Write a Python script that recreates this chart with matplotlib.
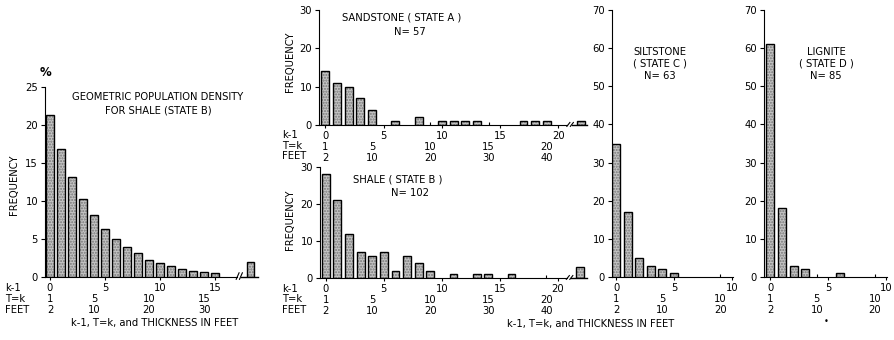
import matplotlib
matplotlib.use("Agg")
import matplotlib.pyplot as plt
from matplotlib.transforms import blended_transform_factory

W, H = 894, 340

# geometric density for shale (percent), k-1 = 0..15 plus tail bar
geo_k = list(range(16))
geo_pct = [21.3, 16.8, 13.1, 10.3, 8.1, 6.3, 5.0, 3.9, 3.1, 2.3, 1.8, 1.5, 1.1, 0.8, 0.6, 0.5]
geo_tail_k, geo_tail_pct = 18.2, 2.0

sand_k = [0, 1, 2, 3, 4, 6, 8, 10, 11, 12, 13, 17, 18, 19]
sand_n = [14, 11, 10, 7, 4, 1, 2, 1, 1, 1, 1, 1, 1, 1]
sand_tail_k, sand_tail_n = 21.9, 1

shale_k = [0, 1, 2, 3, 4, 5, 6, 7, 8, 9, 11, 13, 14, 16]
shale_n = [28, 21, 12, 7, 6, 7, 2, 6, 4, 2, 1, 1, 1, 1]
shale_tail_k, shale_tail_n = 21.9, 3

silt_k = [0, 1, 2, 3, 4, 5]
silt_n = [35, 17, 5, 3, 2, 1]

lig_k = [0, 1, 2, 3, 6]
lig_n = [61, 18, 3, 2, 1]

k_ticks = [0, 5, 10, 15, 20]
t_labels = [1, 5, 10, 15, 20]
feet_labels = [2, 10, 20, 30, 40]

FS = 7.2
plt.rcParams['font.family'] = 'DejaVu Sans'
plt.rcParams['font.size'] = FS

fig = plt.figure(figsize=(W / 100, H / 100), dpi=100)


def px_axes(x0, x1, ytop, ybot):
    # axes box given in pixel coords of the 894x340 picture
    return fig.add_axes([x0 / W, 1 - ybot / H, (x1 - x0) / W, (ybot - ytop) / H])


def bars(ax, k, v):
    ax.bar(k, v, width=0.68, color='#c4c4c4', edgecolor='#777777',
           hatch='......', linewidth=0, zorder=2)
    ax.bar(k, v, width=0.68, fill=False, edgecolor='black', linewidth=1.0, zorder=3)


def style(ax, ymax, ystep, xmin, xmax, kmax, brk=None):
    ax.set_ylim(0, ymax)
    ax.set_xlim(xmin, xmax)
    for s in ['top', 'right']:
        ax.spines[s].set_visible(False)
    ax.set_yticks(range(0, ymax + 1, ystep))
    ax.tick_params(axis='y', direction='out', length=3, width=0.8, pad=2, labelsize=FS)

    ks = [t for t in k_ticks if t <= kmax]
    ax.set_xticks(ks)
    ax.set_xticks([t - 1 for t in t_labels if 1 < t <= kmax + 1], minor=True)
    ax.tick_params(axis='x', which='major', direction='out', length=2.5, width=0.8, pad=1.5)
    ax.tick_params(axis='x', which='minor', direction='in', length=2.5, width=0.8)

    # second and third rows of x labels: T=k and thickness in feet
    tr = blended_transform_factory(ax.transData, ax.transAxes)
    for t, f in zip(t_labels, feet_labels):
        if t - 1 <= kmax:
            ax.annotate(str(t), (t - 1, 0), xycoords=tr, xytext=(0, -15.5),
                        textcoords='offset points', ha='center', va='center')
            ax.annotate(str(f), (t - 1, 0), xycoords=tr, xytext=(0, -23.5),
                        textcoords='offset points', ha='center', va='center')

    if brk is not None:
        ax.spines['bottom'].set_bounds(xmin, brk - 0.15)
        ax.plot([brk + 0.25, xmax], [0, 0], color='black', lw=1.0,
                transform=tr, clip_on=False)
        for dx in (-0.05, 0.25):
            ax.plot([brk + dx - 0.13, brk + dx + 0.13], [-0.012, 0.022], color='black',
                    lw=0.8, transform=tr, clip_on=False)


def row_labels(x, ys):
    for lab, yy in zip(['k-1', 'T=k', 'FEET'], ys):
        fig.text(x / W, 1 - yy / H, lab, ha='left', va='center')


def label(x, y, s, **kw):
    fig.text(x / W, 1 - y / H, s, ha='center', va='center', **kw)


# left panel: geometric density
ax0 = px_axes(45, 258, 87, 277)
bars(ax0, geo_k, geo_pct)
bars(ax0, [geo_tail_k], [geo_tail_pct])
style(ax0, 25, 5, -0.45, 18.9, 15, brk=17.1)
label(45, 73, '%', fontsize=8.5, fontweight='bold')
label(158, 97, 'GEOMETRIC POPULATION DENSITY')
label(158, 111, 'FOR SHALE (STATE B)')
label(14, 185, 'FREQUENCY', rotation=90)
row_labels(5, [288, 299, 310])
label(155, 323, 'k-1, T=k, and THICKNESS IN FEET')

# sandstone
ax1 = px_axes(319, 587, 10, 125)
bars(ax1, sand_k, sand_n)
bars(ax1, [sand_tail_k], [sand_tail_n])
style(ax1, 30, 10, -0.55, 22.45, 20, brk=20.9)
label(402, 18, 'SANDSTONE ( STATE A )')
label(410, 32, 'N= 57')
label(290, 62, 'FREQUENCY', rotation=90)
row_labels(282, [135, 146, 156])

# shale
ax2 = px_axes(320, 587, 167, 278)
bars(ax2, shale_k, shale_n)
bars(ax2, [shale_tail_k], [shale_tail_n])
style(ax2, 30, 10, -0.5, 22.5, 20, brk=20.9)
label(398, 180, 'SHALE ( STATE B )')
label(410, 193, 'N= 102')
label(290, 220, 'FREQUENCY', rotation=90)
row_labels(282, [289, 299, 310])
label(591, 324, 'k-1, T=k, and THICKNESS IN FEET')

# siltstone
ax3 = px_axes(612, 733, 10, 277)
bars(ax3, silt_k, silt_n)
style(ax3, 70, 10, -0.35, 10.1, 10)
label(660, 52, 'SILTSTONE')
label(660, 64, '( STATE C )')
label(660, 76, 'N= 63')

# lignite
ax4 = px_axes(764, 887, 10, 277)
bars(ax4, lig_k, lig_n)
style(ax4, 70, 10, -0.55, 10.05, 10)
label(826, 52, 'LIGNITE')
label(826, 64, '( STATE D )')
label(826, 76, 'N= 85')
label(826, 322, '\u2022', fontsize=6)

fig.savefig('out.png', dpi=100)
